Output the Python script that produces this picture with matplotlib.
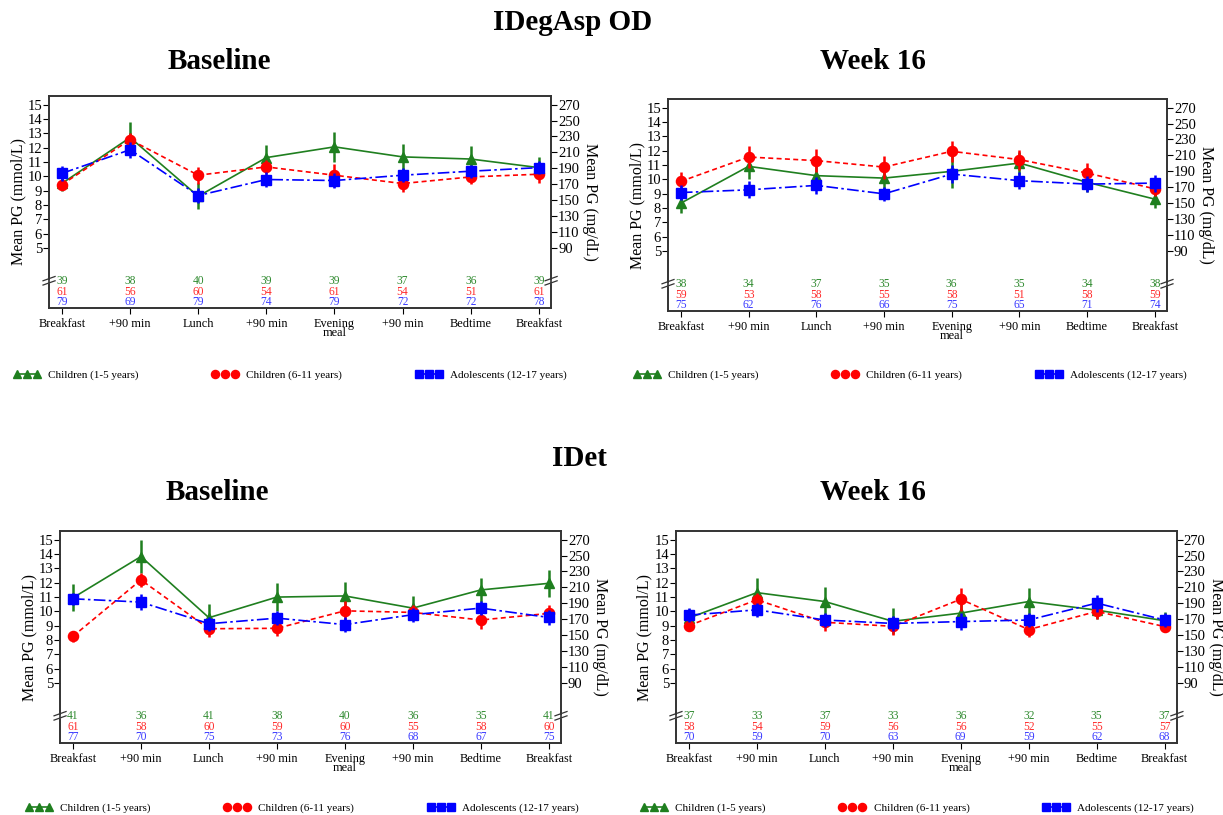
import matplotlib.pyplot as plt
import matplotlib.transforms as mtransforms

plt.rcParams['font.family'] = ['Liberation Serif', 'DejaVu Serif']

# x categories and groups
times = ['Breakfast', '+90 min', 'Lunch', '+90 min', 'Evening\nmeal', '+90 min', 'Bedtime', 'Breakfast']
groups = ['Children (1-5 years)', 'Children (6-11 years)', 'Adolescents (12-17 years)']

# IDegAsp OD - Baseline (mean PG mmol/L, half error bar, n)
dasp_base_c1 = [9.5, 12.7, 8.6, 11.3, 12.05, 11.35, 11.2, 10.6]
dasp_base_c1_err = [0.55, 1.1, 0.9, 0.9, 1.05, 0.93, 0.9, 0.75]
dasp_base_c6 = [9.42, 12.55, 10.07, 10.65, 10.07, 9.49, 9.95, 10.14]
dasp_base_c6_err = [0.4, 0.45, 0.6, 0.5, 0.8, 0.6, 0.5, 0.6]
dasp_base_ad = [10.2, 11.85, 8.65, 9.77, 9.7, 10.07, 10.35, 10.6]
dasp_base_ad_err = [0.5, 0.55, 0.5, 0.5, 0.55, 0.5, 0.45, 0.45]
dasp_base_n = [[39, 38, 40, 39, 39, 37, 36, 39],
               [61, 56, 60, 54, 61, 54, 51, 61],
               [79, 69, 79, 74, 79, 72, 72, 78]]

# IDegAsp OD - Week 16
dasp_w16_c1 = [8.33, 10.9, 10.25, 10.08, 10.55, 11.13, 9.79, 8.61]
dasp_w16_c1_err = [0.7, 0.9, 0.7, 0.9, 1.15, 0.8, 0.7, 0.6]
dasp_w16_c6 = [9.85, 11.55, 11.3, 10.85, 11.95, 11.37, 10.43, 9.33]
dasp_w16_c6_err = [0.65, 0.8, 0.8, 0.8, 0.75, 0.7, 0.7, 0.5]
dasp_w16_ad = [9.07, 9.26, 9.57, 8.98, 10.36, 9.9, 9.66, 9.73]
dasp_w16_ad_err = [0.5, 0.6, 0.6, 0.5, 0.6, 0.6, 0.55, 0.6]
dasp_w16_n = [[38, 34, 37, 35, 36, 35, 34, 38],
              [59, 53, 58, 55, 58, 51, 58, 59],
              [75, 62, 76, 66, 75, 65, 71, 74]]

# IDet - Baseline
det_base_c1 = [10.94, 13.82, 9.55, 10.99, 11.07, 10.22, 11.49, 11.95]
det_base_c1_err = [0.95, 1.15, 0.95, 0.95, 0.95, 0.85, 0.85, 0.95]
det_base_c6 = [8.25, 12.19, 8.78, 8.81, 10.03, 9.92, 9.39, 9.85]
det_base_c6_err = [0.4, 0.5, 0.6, 0.55, 0.7, 0.5, 0.6, 0.6]
det_base_ad = [10.87, 10.64, 9.13, 9.52, 9.07, 9.76, 10.22, 9.57]
det_base_ad_err = [0.4, 0.55, 0.5, 0.5, 0.5, 0.5, 0.5, 0.5]
det_base_n = [[41, 36, 41, 38, 40, 36, 35, 41],
              [61, 58, 60, 59, 60, 55, 58, 60],
              [77, 70, 75, 73, 76, 68, 67, 75]]

# IDet - Week 16
det_w16_c1 = [9.53, 11.3, 10.68, 9.3, 9.87, 10.68, 10.08, 9.34]
det_w16_c1_err = [0.6, 1.0, 1.0, 0.9, 0.8, 0.95, 0.6, 0.6]
det_w16_c6 = [9.0, 10.8, 9.23, 8.95, 10.84, 8.72, 9.99, 8.93]
det_w16_c6_err = [0.4, 0.5, 0.6, 0.6, 0.8, 0.55, 0.5, 0.4]
det_w16_ad = [9.73, 10.1, 9.39, 9.15, 9.28, 9.39, 10.57, 9.39]
det_w16_ad_err = [0.5, 0.5, 0.5, 0.5, 0.6, 0.5, 0.6, 0.5]
det_w16_n = [[37, 33, 37, 33, 36, 32, 35, 37],
             [58, 54, 59, 56, 56, 52, 55, 57],
             [70, 59, 70, 63, 69, 59, 62, 68]]

line_colors = ['#1f7f1f', '#ff0000', '#0000ff']
text_colors = ['#2f8a2f', '#ff2a2a', '#3a3aff']
markers = ['^', 'o', 's']
styles = ['-', (0, (3, 2)), (0, (7, 2, 1.5, 2))]
n_rows = [2.7, 1.95, 1.2]


def draw_panel(ax, series, errors, counts):
    x = list(range(len(times)))
    for k in range(3):
        ax.errorbar(x, series[k], yerr=errors[k], color=line_colors[k],
                    marker=markers[k], markersize=7.3, linestyle=styles[k],
                    linewidth=1.2, elinewidth=1.8, capsize=0,
                    label=groups[k], zorder=3 + k * 0.1)
        for xi, n in zip(x, counts[k]):
            ax.text(xi, n_rows[k], str(n), color=text_colors[k], fontsize=8.3,
                    ha='center', va='center')

    ax.set_xlim(-0.19, 7.18)
    ax.set_ylim(0.8, 15.6)
    ax.set_xticks(x)
    ax.set_xticklabels(times, fontsize=8.8, linespacing=0.7)
    ax.set_yticks(range(5, 16))
    ax.tick_params(axis='y', labelsize=10.5, length=4, pad=1)
    ax.tick_params(axis='x', length=4, pad=3)
    ax.set_ylabel('Mean PG (mmol/L)', fontsize=11.5, labelpad=1)

    ax2 = ax.twinx()
    ax2.set_ylim(0.8 * 18, 15.6 * 18)
    ax2.set_yticks(range(90, 271, 20))
    ax2.tick_params(axis='y', labelsize=10.5, length=4, pad=1)
    ax2.set_ylabel('Mean PG (mg/dL)', fontsize=11.5, rotation=270, labelpad=13)

    for a in (ax, ax2):
        for sp in a.spines.values():
            sp.set_linewidth(1.2)
            sp.set_color('#333333')

    # axis break marks on both spines
    tr = mtransforms.blended_transform_factory(ax.transAxes, ax.transData)
    for xs in (0.0, 1.0):
        ax.plot([xs - 0.004, xs + 0.004], [2.6, 2.6], color='white', lw=3,
                transform=tr, clip_on=False, zorder=5)
        for dy in (0.0, 0.3):
            ax.plot([xs - 0.012, xs + 0.012], [2.4 + dy, 2.7 + dy],
                    color='#333333', lw=0.9, transform=tr, clip_on=False,
                    zorder=6)
    return ax


fig = plt.figure(figsize=(12.23, 8.15), dpi=100)

ax_tl = fig.add_axes([0.0401, 0.6221, 0.4105, 0.2601])
ax_tr = fig.add_axes([0.5462, 0.6184, 0.4080, 0.2601])
ax_bl = fig.add_axes([0.0491, 0.0883, 0.4096, 0.2601])
ax_br = fig.add_axes([0.5527, 0.0883, 0.4096, 0.2601])

draw_panel(ax_tl, [dasp_base_c1, dasp_base_c6, dasp_base_ad],
           [dasp_base_c1_err, dasp_base_c6_err, dasp_base_ad_err],
           dasp_base_n)
draw_panel(ax_tr, [dasp_w16_c1, dasp_w16_c6, dasp_w16_ad],
           [dasp_w16_c1_err, dasp_w16_c6_err, dasp_w16_ad_err],
           dasp_w16_n)
draw_panel(ax_bl, [det_base_c1, det_base_c6, det_base_ad],
           [det_base_c1_err, det_base_c6_err, det_base_ad_err],
           det_base_n)
draw_panel(ax_br, [det_w16_c1, det_w16_c6, det_w16_ad],
           [det_w16_c1_err, det_w16_c6_err, det_w16_ad_err],
           det_w16_n)

# headings
title_kw = dict(fontsize=21, fontweight='bold', ha='center', va='center')
fig.text(0.468, 0.972, 'IDegAsp OD', **title_kw)
fig.text(0.474, 0.438, 'IDet', **title_kw)
fig.text(0.179, 0.924, 'Baseline', **title_kw)
fig.text(0.714, 0.924, 'Week 16', **title_kw)
fig.text(0.178, 0.396, 'Baseline', **title_kw)
fig.text(0.714, 0.396, 'Week 16', **title_kw)

# legends under each panel (marker + line only, no error bars)
legend_spots = [(ax_tl, 0.011, 0.540), (ax_tr, 0.518, 0.540),
                (ax_bl, 0.021, 0.009), (ax_br, 0.524, 0.009)]
for ax, lx, ly in legend_spots:
    handles, labels = ax.get_legend_handles_labels()
    handles = [h[0] for h in handles]
    ax.legend(handles, labels, loc='center left', bbox_to_anchor=(lx, ly),
              bbox_transform=fig.transFigure, ncol=3, frameon=False,
              fontsize=8, numpoints=3, handlelength=2.4, handletextpad=0.7,
              columnspacing=6.6, borderpad=0, borderaxespad=0,
              markerscale=0.8)

fig.savefig('out.png', dpi=100)
